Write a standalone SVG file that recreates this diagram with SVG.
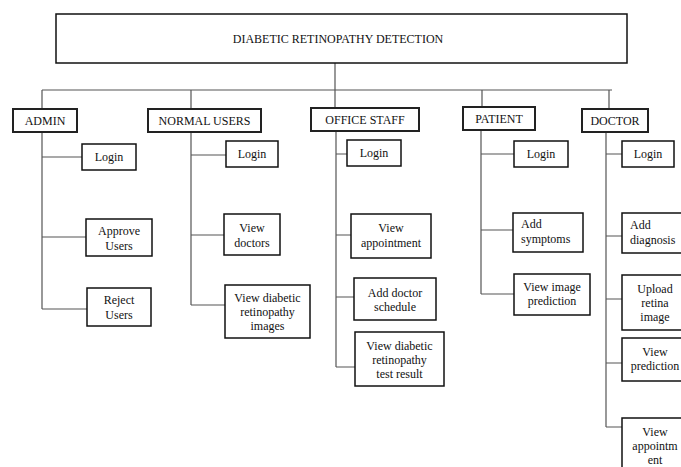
<svg xmlns="http://www.w3.org/2000/svg" width="681" height="467" viewBox="0 0 681 467">
<style>
text{font-family:"Liberation Serif","Times New Roman",serif;font-size:12px;fill:#111;text-anchor:middle}
.l{text-anchor:start}
.b{fill:#fff;stroke:#111;stroke-width:1.5}
.r{fill:#fff;stroke:#222;stroke-width:2}
.c{fill:none;stroke:#555;stroke-width:1.2}
</style>
<rect width="681" height="467" fill="#fff"/>
<g id="connectors">
<path class="c" d="M335 63V108M42 90H612M42 90V109M191 90V109M482 90V107M609 90V109"/>
<path class="c" d="M42 132V309M42 157H82M42 237H86M42 309H87"/>
<path class="c" d="M191 132V305M191 155H226M191 235H224M191 305H225"/>
<path class="c" d="M336 131V367M336 154H347M336 235H351M336 297H354M336 367H355"/>
<path class="c" d="M481 130V294M481 154H514M481 230H513M481 294H514"/>
<path class="c" d="M606 132V427M606 154H622M606 236H622M606 299H622M606 363H622M606 427H622"/>
</g>
<g id="title"><rect class="b" x="56" y="14" width="571" height="49"/><text x="338" y="43">DIABETIC RETINOPATHY DETECTION</text></g>
<g id="admin"><rect class="r" x="13" y="109" width="64" height="23"/><text x="45" y="125">ADMIN</text></g>
<g id="normal-users"><rect class="r" x="148" y="109" width="113" height="23"/><text x="204.5" y="125">NORMAL USERS</text></g>
<g id="office-staff"><rect class="r" x="311" y="108" width="108" height="23"/><text x="365" y="124">OFFICE STAFF</text></g>
<g id="patient"><rect class="r" x="463" y="107" width="72" height="23"/><text x="499" y="123">PATIENT</text></g>
<g id="doctor"><rect class="r" x="582" y="109" width="66" height="23"/><text x="615" y="125">DOCTOR</text></g>

<g id="admin-login"><rect class="b" x="82" y="144" width="54" height="26"/><text x="109" y="161">Login</text></g>
<g id="admin-approve"><rect class="b" x="86" y="219" width="66" height="37"/><text x="119" y="235">Approve</text><text x="119" y="250">Users</text></g>
<g id="admin-reject"><rect class="b" x="87" y="288" width="64" height="38"/><text x="119" y="304">Reject</text><text x="119" y="319">Users</text></g>

<g id="nu-login"><rect class="b" x="226" y="141" width="52" height="26"/><text x="252" y="158">Login</text></g>
<g id="nu-doctors"><rect class="b" x="224" y="214" width="56" height="41"/><text x="252" y="232">View</text><text x="252" y="247">doctors</text></g>
<g id="nu-images"><rect class="b" x="225" y="285" width="85" height="53"/><text x="267.5" y="302">View diabetic</text><text x="267.5" y="316">retinopathy</text><text x="267.5" y="330">images</text></g>

<g id="os-login"><rect class="b" x="347" y="140" width="54" height="26"/><text x="374" y="157">Login</text></g>
<g id="os-appointment"><rect class="b" x="351" y="214" width="80" height="44"/><text x="391" y="232">View</text><text x="391" y="247">appointment</text></g>
<g id="os-schedule"><rect class="b" x="354" y="278" width="82" height="42"/><text x="395" y="297">Add doctor</text><text x="395" y="311">schedule</text></g>
<g id="os-result"><rect class="b" x="355" y="332" width="89" height="54"/><text x="399.5" y="350">View diabetic</text><text x="399.5" y="364">retinopathy</text><text x="399.5" y="378">test result</text></g>

<g id="pt-login"><rect class="b" x="514" y="141" width="54" height="26"/><text x="541" y="158">Login</text></g>
<g id="pt-symptoms"><rect class="b" x="513" y="213" width="70" height="39"/><text class="l" x="521" y="228">Add</text><text class="l" x="521" y="243">symptoms</text></g>
<g id="pt-prediction"><rect class="b" x="514" y="274" width="76" height="41"/><text x="552" y="291">View image</text><text x="552" y="305">prediction</text></g>

<g id="dr-login"><rect class="b" x="622" y="141" width="52" height="26"/><text x="648" y="158">Login</text></g>
<g id="dr-diagnosis"><rect class="b" x="622" y="213" width="66" height="40"/><text class="l" x="630" y="229">Add</text><text class="l" x="630" y="244">diagnosis</text></g>
<g id="dr-upload"><rect class="b" x="622" y="275" width="66" height="55"/><text x="655" y="293">Upload</text><text x="655" y="307">retina</text><text x="655" y="321">image</text></g>
<g id="dr-prediction"><rect class="b" x="622" y="338" width="66" height="43"/><text x="655" y="356">View</text><text x="655" y="370">prediction</text></g>
<g id="dr-appointment"><rect class="b" x="622" y="418" width="66" height="55"/><text x="655" y="436">View</text><text x="655" y="450">appointm</text><text x="655" y="464">ent</text></g>
</svg>
